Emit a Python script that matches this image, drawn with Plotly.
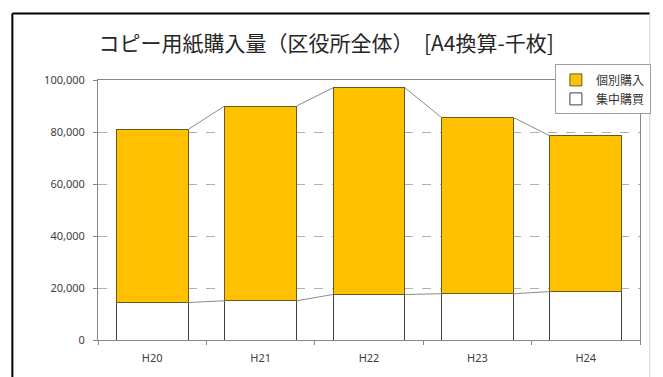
import plotly.graph_objects as go

# Copy paper purchases per fiscal year (thousand sheets, A4 equivalent)
years = ["H20", "H21", "H22", "H23", "H24"]
central = [14400, 15100, 17500, 17800, 18600]      # 集中購買
individual = [66600, 74900, 79500, 67800, 59900]   # 個別購入

totals = [c + i for c, i in zip(central, individual)]
xs = list(range(len(years)))
bar_w = 0.664

fig = go.Figure()

fig.add_trace(go.Bar(
    x=xs, y=central, name="集中購買", width=bar_w,
    marker=dict(color="#ffffff", line=dict(color="#404040", width=1)),
))
fig.add_trace(go.Bar(
    x=xs, y=individual, name="個別購入", width=bar_w,
    marker=dict(color="#ffc000", line=dict(color="#6b5a1e", width=1)),
))


def series_line(tops):
    lx, ly = [], []
    for i in range(len(tops) - 1):
        lx += [xs[i] + bar_w / 2, xs[i + 1] - bar_w / 2, None]
        ly += [tops[i], tops[i + 1], None]
    return lx, ly


for tops in (central, totals):
    lx, ly = series_line(tops)
    fig.add_trace(go.Scatter(
        x=lx, y=ly, mode="lines", showlegend=False, hoverinfo="skip",
        line=dict(color="#8c8c8c", width=1),
    ))

tick_font = dict(family="Noto Sans, DejaVu Sans, sans-serif", size=11, color="#404040")

fig.update_layout(
    width=663, height=377,
    margin=dict(l=98, r=14, t=80, b=33),
    paper_bgcolor="#ffffff", plot_bgcolor="#ffffff",
    barmode="stack",
    title=dict(
        text="コピー用紙購入量（区役所全体）　[A4換算-千枚]",
        x=0.492, xanchor="center", y=0.885, yanchor="middle",
        font=dict(family="Noto Sans CJK JP", size=21, color="#262626"),
    ),
    legend=dict(
        x=0.843, xanchor="left", y=1.06, yanchor="top",
        traceorder="reversed",
        bgcolor="#ffffff", bordercolor="#a0a0a0", borderwidth=1,
        font=dict(family="Noto Sans CJK JP", size=12, color="#333333"),
        itemwidth=30, tracegroupgap=0,
    ),
    xaxis=dict(
        range=[-0.5, 4.5], tickmode="array", tickvals=xs, ticktext=years,
        ticks="", showgrid=False, zeroline=False,
        showline=True, linecolor="#868686", linewidth=1, mirror=True,
        tickfont=tick_font, ticklabelstandoff=8,
        minor=dict(tickmode="array", tickvals=[-0.5, 0.5, 1.5, 2.5, 3.5, 4.5],
                   ticks="outside", ticklen=4, tickcolor="#868686", showgrid=False),
    ),
    yaxis=dict(
        range=[0, 100000], dtick=20000, tickformat=",",
        ticks="outside", ticklen=4, tickcolor="#868686",
        showline=True, linecolor="#868686", linewidth=1, mirror=True,
        showgrid=True, gridcolor="#b0b0b0", griddash="dash", gridwidth=1,
        zeroline=False, tickfont=tick_font, ticklabelstandoff=6,
    ),
    shapes=[
        dict(type="line", xref="paper", yref="paper", x0=-0.158, x1=-0.158, y0=-0.2, y1=1.2557,
             line=dict(color="#000000", width=2)),
        dict(type="line", xref="paper", yref="paper", x0=-0.158, x1=1.018, y0=1.2557, y1=1.2557,
             line=dict(color="#000000", width=2)),
        dict(type="line", xref="paper", yref="paper", x0=1.018, x1=1.018, y0=-0.2, y1=1.2557,
             line=dict(color="#d0d0d0", width=1)),
    ],
)

fig.write_html("out.html")
